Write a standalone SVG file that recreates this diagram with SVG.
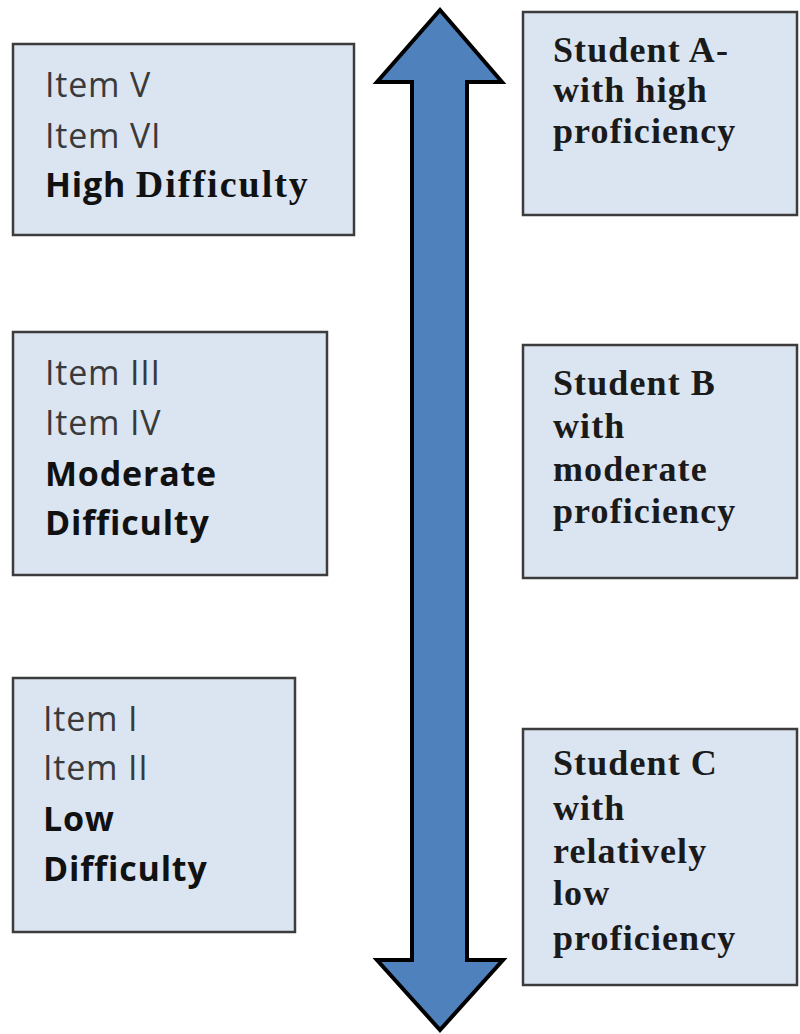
<svg xmlns="http://www.w3.org/2000/svg" width="800" height="1034" viewBox="0 0 800 1034">
<style>
.box{fill:#dbe5f1;stroke:#3c3c3c;stroke-width:2.5}
.item{font-family:"Open Sans","Liberation Sans",sans-serif;font-size:34px;fill:#3a3a3a;letter-spacing:0.8px}
.lvl{font-family:"Open Sans","Liberation Sans",sans-serif;font-size:34px;font-weight:bold;fill:#111;letter-spacing:0.8px}
.ser{font-family:"Liberation Serif","Times New Roman",serif;font-weight:bold;fill:#111}
.stu{font-family:"Liberation Serif","Times New Roman",serif;font-size:36px;font-weight:bold;fill:#1a1a1a;letter-spacing:1.1px}
.arrow{fill:#4f81bd;stroke:#000;stroke-width:4;stroke-linejoin:miter}
</style>
<rect width="800" height="1034" fill="#fff"/>
<g id="connectors">
<polygon class="arrow" points="440,10 502,82 467,82 467,960 503,960 440,1030 377,960 412,960 412,82 377,82"/>
</g>
<g id="high">
<rect class="box" x="13" y="44" width="341" height="191"/>
<text class="item" x="45" y="97">Item V</text>
<text class="item" x="45" y="148">Item VI</text>
<text class="lvl" x="45" y="197">High <tspan class="ser" font-size="38" letter-spacing="2">Difficulty</tspan></text>
</g>
<g id="moderate">
<rect class="box" x="13" y="332" width="314" height="243"/>
<text class="item" x="45" y="385">Item III</text>
<text class="item" x="45" y="435">Item IV</text>
<text class="lvl" x="45" y="486">Moderate</text>
<text class="lvl" x="45" y="535">Difficulty</text>
</g>
<g id="low">
<rect class="box" x="13" y="678" width="282" height="254"/>
<text class="item" x="43" y="731">Item I</text>
<text class="item" x="43" y="780">Item II</text>
<text class="lvl" x="43" y="831">Low</text>
<text class="lvl" x="43" y="881">Difficulty</text>
</g>
<g id="studentA">
<rect class="box" x="523" y="12" width="274" height="203"/>
<text class="stu" x="553" y="62">Student A-</text>
<text class="stu" x="553" y="102">with high</text>
<text class="stu" x="553" y="143">proficiency</text>
</g>
<g id="studentB">
<rect class="box" x="523" y="345" width="274" height="233"/>
<text class="stu" x="553" y="395">Student B</text>
<text class="stu" x="553" y="438">with</text>
<text class="stu" x="553" y="481">moderate</text>
<text class="stu" x="553" y="523">proficiency</text>
</g>
<g id="studentC">
<rect class="box" x="523" y="729" width="274" height="256"/>
<text class="stu" x="553" y="775">Student C</text>
<text class="stu" x="553" y="820">with</text>
<text class="stu" x="553" y="863">relatively</text>
<text class="stu" x="553" y="905">low</text>
<text class="stu" x="553" y="950">proficiency</text>
</g>
</svg>
